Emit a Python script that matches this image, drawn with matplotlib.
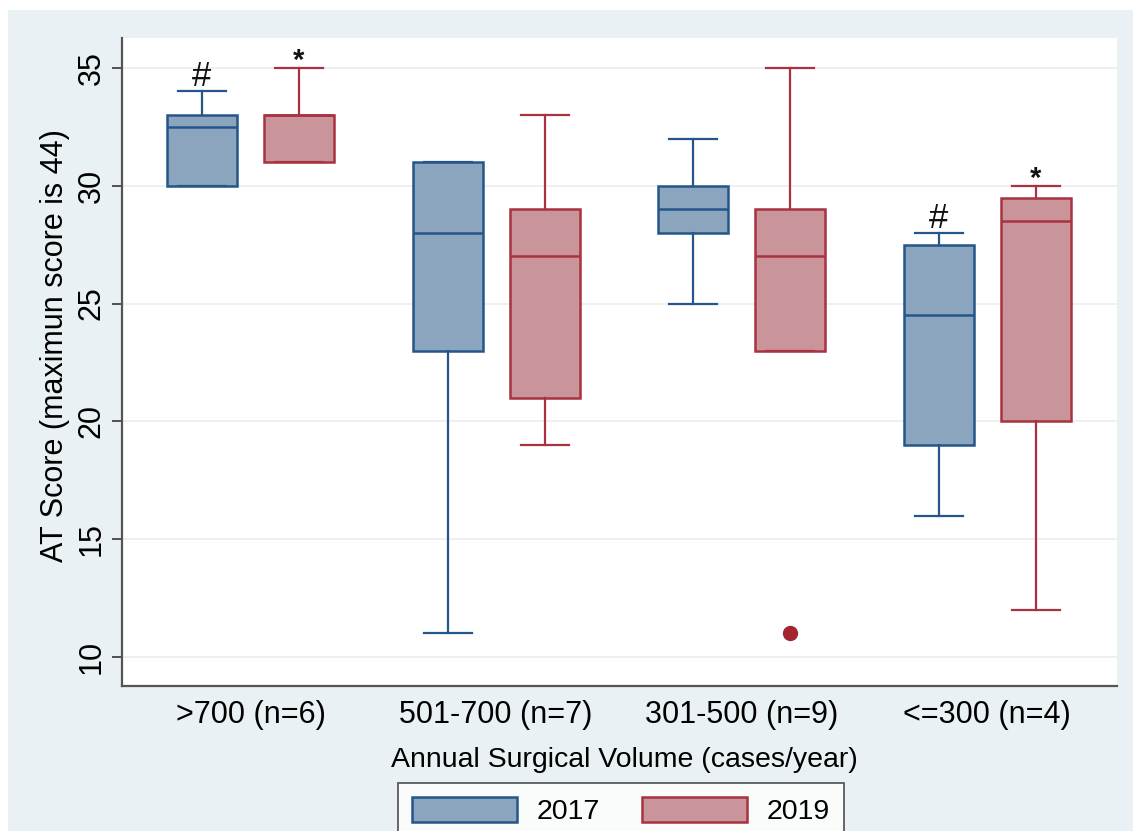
import matplotlib
matplotlib.use("Agg")
import matplotlib.pyplot as plt
from matplotlib.patches import Rectangle, Patch

plt.rcParams['font.family'] = ['Liberation Sans', 'DejaVu Sans']

categories = [">700 (n=6)", "501-700 (n=7)", "301-500 (n=9)", "<=300 (n=4)"]
years = ["2017", "2019"]

# five-number summaries per category
q1_2017 = [30, 23, 28, 19]
med_2017 = [32.5, 28, 29, 24.5]
q3_2017 = [33, 31, 30, 27.5]
lo_2017 = [30, 11, 25, 16]
hi_2017 = [34, 31, 32, 28]
out_2017 = [[], [], [], []]

q1_2019 = [31, 21, 23, 20]
med_2019 = [33, 27, 27, 28.5]
q3_2019 = [33, 29, 29, 29.5]
lo_2019 = [31, 19, 23, 12]
hi_2019 = [35, 33, 35, 30]
out_2019 = [[], [], [11], []]

# significance markers: (category index, year index, symbol)
markers = [(0, 0, "#"), (0, 1, "*"), (3, 0, "#"), (3, 1, "*")]

blue_edge = "#25568a"
blue_fill = "#8ca5be"
red_edge = "#a8323f"
red_fill = "#c9959b"

W, H = 1133, 831
fig = plt.figure(figsize=(W / 100, H / 100), dpi=100)
fig.patch.set_facecolor("white")
fig.patches.append(Rectangle((8 / W, 0), 1 - 8 / W, (H - 10) / H,
                             transform=fig.transFigure, facecolor="#eaf1f4",
                             edgecolor="none", zorder=-10))

ax = fig.add_axes([122 / W, (H - 686) / H, (1117 - 122) / W, (686 - 38) / H])
ax.set_facecolor("white")

offset = 0.1975
bw = 0.285
cw = 0.195

def build(q1, med, q3, lo, hi, out):
    return [dict(q1=a, med=b, q3=c, whislo=d, whishi=e, fliers=f)
            for a, b, c, d, e, f in zip(q1, med, q3, lo, hi, out)]

series = [
    (build(q1_2017, med_2017, q3_2017, lo_2017, hi_2017, out_2017), -offset, blue_edge, blue_fill),
    (build(q1_2019, med_2019, q3_2019, lo_2019, hi_2019, out_2019), offset, red_edge, red_fill),
]

for stats, off, ec, fc in series:
    pos = [i + off for i in range(len(categories))]
    ax.bxp(stats, positions=pos, widths=bw, capwidths=cw, patch_artist=True,
           showfliers=True,
           boxprops=dict(facecolor=fc, edgecolor=ec, linewidth=1.8),
           medianprops=dict(color=ec, linewidth=1.8),
           whiskerprops=dict(color=ec, linewidth=1.6),
           capprops=dict(color=ec, linewidth=1.6),
           flierprops=dict(marker="o", markerfacecolor="#a3262e",
                           markeredgecolor="#a3262e", markersize=10))

his = [hi_2017, hi_2019]
for ci, yi, sym in markers:
    x = ci + (-offset if yi == 0 else offset)
    y = his[yi][ci]
    if sym == "#":
        ax.annotate(sym, (x, y), xytext=(0, 5), textcoords="offset pixels",
                    ha="center", va="baseline", fontsize=25, color="#111111")
    else:
        ax.annotate(sym, (x, y), xytext=(0, -1), textcoords="offset pixels",
                    ha="center", va="baseline", fontsize=21, fontweight="bold",
                    color="#111111")

FS = 22
ax.set_xlim(-0.523, 3.528)
ax.set_ylim(8.77, 36.27)
ax.set_yticks([10, 15, 20, 25, 30, 35])
ax.set_xticks(range(len(categories)))
ax.set_xticklabels(categories, fontsize=FS)
ax.tick_params(axis="x", length=0, pad=10)
ax.tick_params(axis="y", length=7, width=1.3, color="#444444", labelsize=FS, pad=4)
for lab in ax.get_yticklabels():
    lab.set_rotation(90)
    lab.set_va("center")
ax.yaxis.grid(True, color="#ececec", linewidth=1.2)
ax.set_axisbelow(True)
for s in ["top", "right"]:
    ax.spines[s].set_visible(False)
for s in ["left", "bottom"]:
    ax.spines[s].set_color("#555555")
    ax.spines[s].set_linewidth(1.6)

ax.set_ylabel("AT Score (maximun score is 44)", fontsize=22, va="center")
ax.yaxis.set_label_coords(-0.067, 0.525)
ax.set_xlabel("Annual Surgical Volume (cases/year)", fontsize=20.5, va="center")
ax.xaxis.set_label_coords(0.505, -0.114)

handles = [Patch(facecolor=blue_fill, edgecolor=blue_edge, linewidth=1.8, label=years[0]),
           Patch(facecolor=red_fill, edgecolor=red_edge, linewidth=1.8, label=years[1])]
leg = fig.legend(handles=handles, loc="upper center", ncol=2,
                 bbox_to_anchor=(621 / W, (H - 783) / H), bbox_transform=fig.transFigure,
                 borderaxespad=0,
                 fontsize=20.5, frameon=True, fancybox=False, edgecolor="#333333",
                 handlelength=3.7, handleheight=0.95, columnspacing=1.45,
                 borderpad=0.5, handletextpad=0.7)
leg.get_frame().set_linewidth(1.3)
leg.get_frame().set_facecolor("white")

fig.savefig("out.png", dpi=100)
